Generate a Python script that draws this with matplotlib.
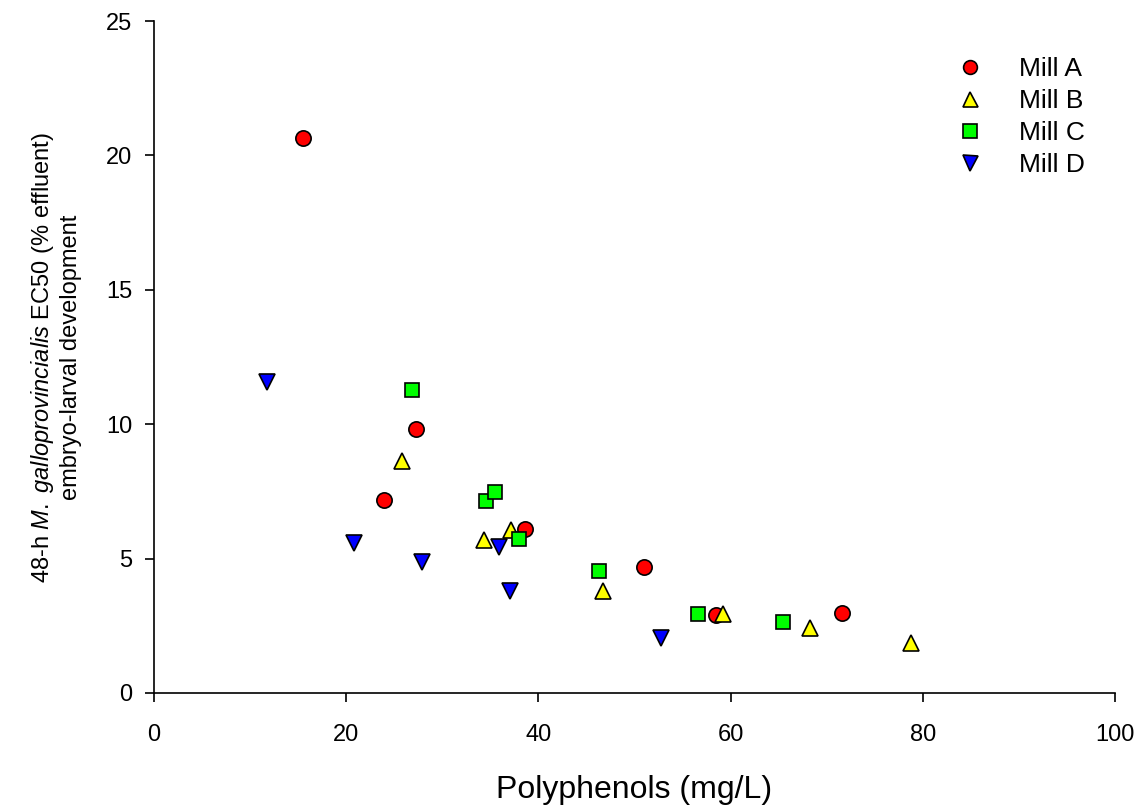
import matplotlib
matplotlib.use("Agg")
import matplotlib.pyplot as plt

plt.rcParams['font.family'] = ['Liberation Sans', 'DejaVu Sans']
plt.rcParams['mathtext.fontset'] = 'custom'
plt.rcParams['mathtext.rm'] = 'Liberation Sans'
plt.rcParams['mathtext.it'] = 'Liberation Sans:italic'

# Data (Polyphenols mg/L, EC50 % effluent)
millA_x = [15.5, 23.9, 27.3, 38.6, 51.0, 58.5, 71.6]
millA_y = [20.64, 7.18, 9.82, 6.10, 4.68, 2.90, 2.97]
millB_x = [25.8, 34.3, 37.2, 46.7, 59.2, 68.3, 78.8]
millB_y = [8.64, 5.69, 6.06, 3.81, 2.93, 2.41, 1.85]
millC_x = [26.8, 34.5, 35.5, 38.0, 46.3, 56.6, 65.5]
millC_y = [11.27, 7.16, 7.49, 5.73, 4.55, 2.94, 2.65]
millD_x = [11.8, 20.8, 27.9, 35.9, 37.0, 52.8]
millD_y = [11.58, 5.57, 4.86, 5.42, 3.78, 2.05]

series = [
    ("Mill A", millA_x, millA_y, 'o', '#ff0000'),
    ("Mill B", millB_x, millB_y, '^', '#ffff00'),
    ("Mill C", millC_x, millC_y, 's', '#00ff00'),
    ("Mill D", millD_x, millD_y, 'v', '#0000ff'),
]
xticks = [0, 20, 40, 60, 80, 100]
yticks = [0, 5, 10, 15, 20, 25]

fig = plt.figure(figsize=(11.43, 8.09), dpi=100)
ax = fig.add_axes([0.1347, 0.1434, 0.8408, 0.8306])

sizes = {'o': 11, '^': 12, 's': 10.5, 'v': 12}
for name, xs, ys, m, c in series:
    ax.plot(xs, ys, linestyle='none', marker=m, markersize=sizes[m],
            markerfacecolor=c, markeredgecolor='black', markeredgewidth=1.2,
            label=name)

ax.set_xlim(0, 100)
ax.set_ylim(0, 25)
ax.set_xticks(xticks)
ax.set_yticks(yticks)
ax.spines['top'].set_visible(False)
ax.spines['right'].set_visible(False)
for s in ['left', 'bottom']:
    ax.spines[s].set_linewidth(1.2)
ax.tick_params(direction='out', length=6.5, width=1.2, labelsize=17)
ax.tick_params(axis='x', pad=15.5)
ax.tick_params(axis='y', pad=9)

ax.set_xlabel("Polyphenols (mg/L)", fontsize=23, labelpad=21)
ax.set_ylabel("48-h $\\it{M.\\ galloprovincialis}$ EC50 (% effluent)\nembryo-larval development",
              fontsize=17, linespacing=1.2)
ax.yaxis.set_label_coords(-0.075, 0.5)

leg = ax.legend(loc='upper right', bbox_to_anchor=(0.985, 0.97), frameon=False,
                fontsize=19, handletextpad=0.85, labelspacing=0.3,
                borderaxespad=0.2, markerscale=0.9)

fig.savefig("out.png", dpi=100)
